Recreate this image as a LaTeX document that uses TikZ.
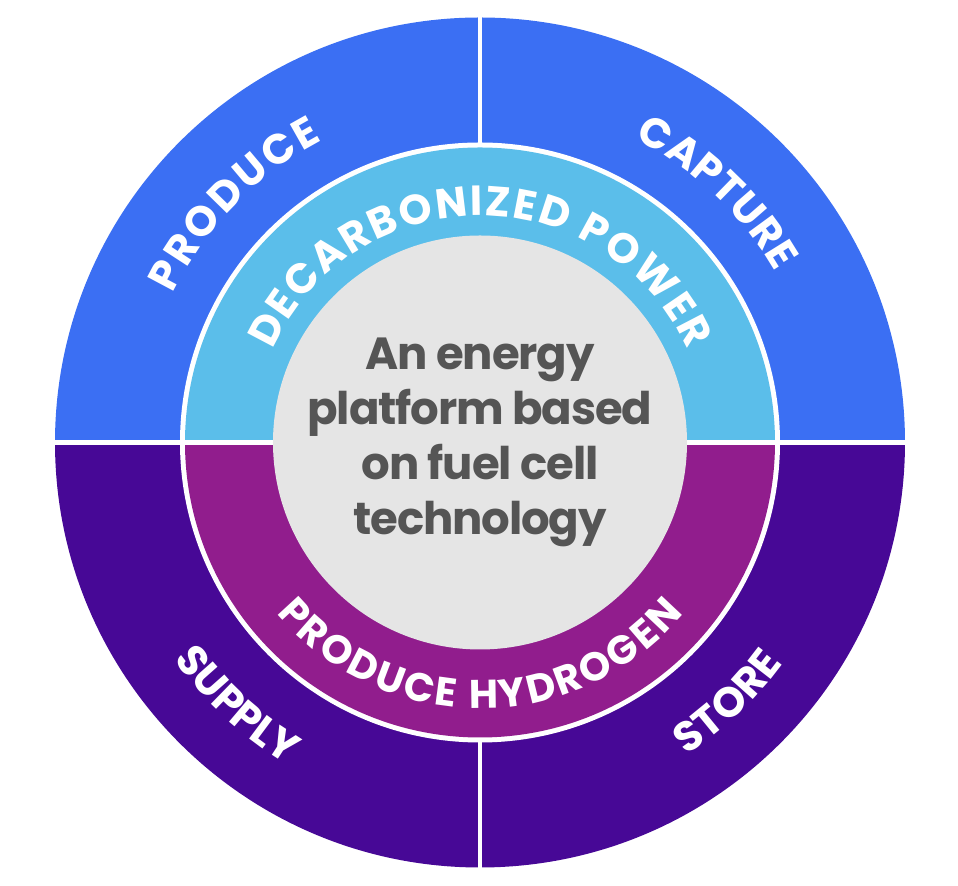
\documentclass[tikz,border=0pt]{standalone}
\usepackage{fontspec}
\setmainfont{Poppins}
\usetikzlibrary{
  calc,
  decorations.text,
}
\definecolor{quadblue}{RGB}{59, 111, 243}
\definecolor{quadpurple}{RGB}{71, 8, 150}
\definecolor{powerblue}{RGB}{91, 190, 234}
\definecolor{hydrogenpurple}{RGB}{145, 29, 141}
\definecolor{coregray}{RGB}{229, 229, 229}
\definecolor{coretext}{RGB}{85, 85, 85}
\newcommand{\ringfont}{\bfseries\fontsize{21}{24}\selectfont}
\newcommand{\hydrofont}{\bfseries\fontsize{20}{24}\selectfont}
\newcommand{\corefont}{\bfseries\fontsize{22.5}{27.5}\selectfont\addfontfeature{LetterSpace=-2.5}}
\tikzstyle{ringtext} = [
  decorate,
  decoration={text along path, text align=fit to path, text color=white},
]
\tikzstyle{gap} = [
  white,
  line width=2.25pt,
]

\begin{document}
\begin{tikzpicture}[x=0.5pt, y=0.5pt]

        \useasboundingbox (-480,-443.5) rectangle (478,442.5);

        % outer ring, four quarters
        \fill[quadblue] (0,0) -- (0:425) arc[start angle=0, end angle=180, radius=425] -- cycle;
        \fill[quadpurple] (0,0) -- (180:425) arc[start angle=180, end angle=360, radius=425] -- cycle;
        \fill[white] (0,0) circle[radius=300];

        % middle ring
        \fill[powerblue] (0,0) -- (0:295) arc[start angle=0, end angle=180, radius=295] -- cycle;
        \fill[hydrogenpurple] (0,0) -- (180:295) arc[start angle=180, end angle=360, radius=295] -- cycle;

        \coordinate (west) at (-430,0);
        \coordinate (east) at (430,0);
        \coordinate (northin) at (0,297);
        \coordinate (northout) at (0,430);
        \coordinate (southin) at (0,-297);
        \coordinate (southout) at (0,-430);
        \draw[gap] (west) -- (east);
        \draw[gap] (northin) -- (northout);
        \draw[gap] (southin) -- (southout);

        % core
        \fill[coregray] (0,0) circle[radius=207];
        \node[font=\corefont, text=coretext, align=center] (core) at (0,0) {An energy\\platform based\\on fuel cell\\technology};

        % labels on the rings
        \path[ringtext, decoration={text={|\ringfont|PRODUCE}}] (154.2:341) arc[start angle=154.2, end angle=117.5, radius=341];
        \path[ringtext, decoration={text={|\ringfont|CAPTURE}}] (63:341) arc[start angle=63, end angle=30, radius=341];
        \path[ringtext, decoration={text={|\ringfont|SUPPLY}}] (215.3:375) arc[start angle=215.3, end angle=238.3, radius=375];
        \path[ringtext, decoration={text={|\ringfont|STORE}}] (303.4:375) arc[start angle=303.4, end angle=324, radius=375];
        \path[ringtext, decoration={text={|\ringfont|DECARBONIZED POWER}}] (156:227) arc[start angle=156, end angle=24, radius=227];
        \path[ringtext, decoration={text={|\hydrofont|PRODUCE HYDROGEN}}] (220:266) arc[start angle=220, end angle=320, radius=266];

\end{tikzpicture}
\end{document}
